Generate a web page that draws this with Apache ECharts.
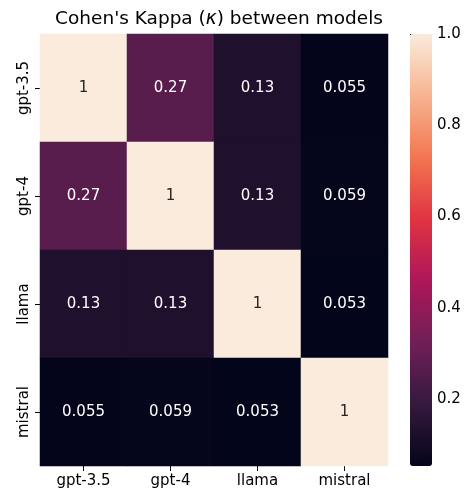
<!DOCTYPE html>
<html>
<head>
<meta charset="utf-8">
<script src="https://cdn.jsdelivr.net/npm/echarts@6/dist/echarts.min.js"></script>
<style>
  html, body { margin: 0; padding: 0; background: #fff; }
  #container { width: 469px; height: 491px; }
</style>
</head>
<body>
<div id="container"></div>
<script>
var dom = document.getElementById('container');
var myChart = echarts.init(dom, null, { renderer: 'canvas' });

// models (x left->right, y top->bottom)
var models = ['gpt-3.5', 'gpt-4', 'llama', 'mistral'];

// kappa rows
var rowGpt35 = [1, 0.27, 0.13, 0.055];
var rowGpt4 = [0.27, 1, 0.13, 0.059];
var rowLlama = [0.13, 0.13, 1, 0.053];
var rowMistral = [0.055, 0.059, 0.053, 1];
var rows = [rowGpt35, rowGpt4, rowLlama, rowMistral];

// colorbar ticks
var cbarTicks = [0.2, 0.4, 0.6, 0.8, 1.0];
var vMin = 0.053, vMax = 1;

// rocket colormap
var rocket = ['#03051A', '#35193E', '#701F57', '#AD1759', '#E13342', '#F37651', '#F6B48F', '#FAEBDD'];

var font = 'DejaVu Sans';

var cells = [];
rows.forEach(function (row, yi) {
  row.forEach(function (v, xi) {
    cells.push({
      value: [xi, yi, v],
      label: { color: v > 0.5 ? '#262626' : '#ffffff' }
    });
  });
});

var option = {
  backgroundColor: '#ffffff',
  animation: false,
  title: {
    text: "Cohen's Kappa ({k|κ}) between models",
    left: 214,
    textAlign: 'center',
    top: 5,
    textStyle: {
      fontFamily: font, fontSize: 18.5, fontWeight: 'normal', color: '#000',
      rich: {
        k: { fontFamily: font, fontSize: 18.5, fontStyle: 'italic', color: '#000' }
      }
    }
  },
  grid: [
    { left: 40, top: 34, width: 348, height: 432 },
    { left: 410, top: 34, width: 22, height: 432 }
  ],
  xAxis: [
    {
      type: 'category',
      data: models,
      gridIndex: 0,
      axisLine: { show: false },
      axisTick: { show: true, alignWithLabel: true, length: 5, lineStyle: { color: '#000' } },
      axisLabel: { fontFamily: font, fontSize: 15, color: '#000', margin: 8 },
      splitLine: { show: false }
    },
    {
      type: 'value',
      gridIndex: 1,
      show: false,
      min: 0,
      max: 1
    }
  ],
  yAxis: [
    {
      type: 'category',
      data: models,
      inverse: true,
      gridIndex: 0,
      axisLine: { show: false },
      axisTick: { show: true, alignWithLabel: true, length: 5, lineStyle: { color: '#000' } },
      axisLabel: { fontFamily: font, fontSize: 15, color: '#000', rotate: 90, margin: 8 },
      splitLine: { show: false }
    },
    {
      type: 'value',
      gridIndex: 1,
      position: 'right',
      min: vMin,
      max: vMax,
      axisLine: { show: false },
      splitLine: { show: false },
      axisTick: { show: true, length: 5, lineStyle: { color: '#000' }, customValues: cbarTicks },
      axisLabel: {
        fontFamily: font, fontSize: 15, color: '#000', margin: 5,
        customValues: cbarTicks,
        formatter: function (v) { return v.toFixed(1); }
      }
    }
  ],
  visualMap: {
    type: 'continuous',
    min: vMin,
    max: vMax,
    calculable: false,
    orient: 'vertical',
    left: 410,
    top: 34,
    padding: 0,
    itemWidth: 22,
    itemHeight: 432,
    seriesIndex: 0,
    inRange: { color: rocket },
    textStyle: { color: 'transparent' }
  },
  series: [
    {
      type: 'heatmap',
      xAxisIndex: 0,
      yAxisIndex: 0,
      data: cells,
      label: {
        show: true,
        fontFamily: font,
        fontSize: 15,
        formatter: function (p) { return String(p.value[2]); }
      },
      emphasis: { disabled: true }
    }
  ]
};

myChart.setOption(option);

window.addEventListener('resize', function () {
  myChart.resize();
});
</script>
</body>
</html>
